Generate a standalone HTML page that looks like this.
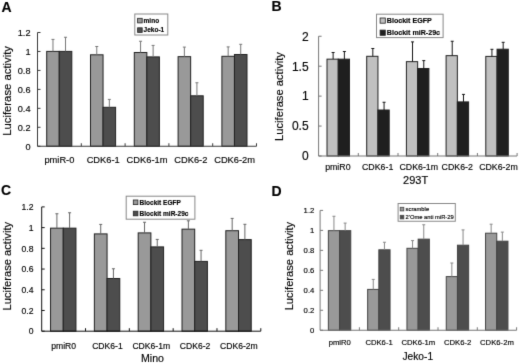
<!DOCTYPE html>
<html><head><meta charset="utf-8"><style>
html,body{margin:0;padding:0;background:#fff;}
body{width:520px;height:363px;overflow:hidden;}
svg{display:block;font-family:"Liberation Sans", sans-serif;fill:#000;will-change:transform;}
text{stroke:#000;stroke-width:0.15px;}
</style></head><body>
<svg width="520" height="363" viewBox="0 0 520 363" font-family='"Liberation Sans", sans-serif' fill="#000">
<defs><filter id="bl" filterUnits="userSpaceOnUse" x="0" y="0" width="520" height="363" color-interpolation-filters="sRGB"><feConvolveMatrix order="3" kernelMatrix="0.25 2.0 0.25 2.0 16 2.0 0.25 2.0 0.25" edgeMode="duplicate" preserveAlpha="false"/></filter></defs>
<rect x="0" y="0" width="520" height="363" fill="#fff"/>
<g filter="url(#bl)">
<text x="1.4" y="11.9" font-size="14" font-weight="bold">A</text>
<rect x="46.7" y="51.4" width="12.55" height="94.85" fill="#999999" stroke="#222222" stroke-width="1"/>
<line x1="52.98" y1="51.4" x2="52.98" y2="39.4" stroke="#777777" stroke-width="1"/>
<line x1="51.48" y1="39.4" x2="54.48" y2="39.4" stroke="#777777" stroke-width="1"/>
<rect x="59.25" y="51.4" width="12.55" height="94.85" fill="#4d4d4d" stroke="#222222" stroke-width="1"/>
<line x1="65.53" y1="51.4" x2="65.53" y2="37.25" stroke="#777777" stroke-width="1"/>
<line x1="64.03" y1="37.25" x2="67.03" y2="37.25" stroke="#777777" stroke-width="1"/>
<rect x="90.5" y="54.8" width="12.55" height="91.45" fill="#999999" stroke="#222222" stroke-width="1"/>
<line x1="96.78" y1="54.8" x2="96.78" y2="46.5" stroke="#777777" stroke-width="1"/>
<line x1="95.28" y1="46.5" x2="98.28" y2="46.5" stroke="#777777" stroke-width="1"/>
<rect x="103.05" y="107.3" width="12.55" height="38.95" fill="#4d4d4d" stroke="#222222" stroke-width="1"/>
<line x1="109.33" y1="107.3" x2="109.33" y2="99.4" stroke="#777777" stroke-width="1"/>
<line x1="107.83" y1="99.4" x2="110.83" y2="99.4" stroke="#777777" stroke-width="1"/>
<rect x="134.3" y="52.5" width="12.55" height="93.75" fill="#999999" stroke="#222222" stroke-width="1"/>
<line x1="140.57" y1="52.5" x2="140.57" y2="41.25" stroke="#777777" stroke-width="1"/>
<line x1="139.07" y1="41.25" x2="142.07" y2="41.25" stroke="#777777" stroke-width="1"/>
<rect x="146.85" y="56.9" width="12.55" height="89.35" fill="#4d4d4d" stroke="#222222" stroke-width="1"/>
<line x1="153.12" y1="56.9" x2="153.12" y2="45.4" stroke="#777777" stroke-width="1"/>
<line x1="151.62" y1="45.4" x2="154.62" y2="45.4" stroke="#777777" stroke-width="1"/>
<rect x="178.1" y="56.65" width="12.55" height="89.6" fill="#999999" stroke="#222222" stroke-width="1"/>
<line x1="184.37" y1="56.65" x2="184.37" y2="47.1" stroke="#777777" stroke-width="1"/>
<line x1="182.87" y1="47.1" x2="185.87" y2="47.1" stroke="#777777" stroke-width="1"/>
<rect x="190.65" y="95.8" width="12.55" height="50.45" fill="#4d4d4d" stroke="#222222" stroke-width="1"/>
<line x1="196.92" y1="95.8" x2="196.92" y2="82.75" stroke="#777777" stroke-width="1"/>
<line x1="195.42" y1="82.75" x2="198.42" y2="82.75" stroke="#777777" stroke-width="1"/>
<rect x="221.9" y="56.3" width="12.55" height="89.95" fill="#999999" stroke="#222222" stroke-width="1"/>
<line x1="228.17" y1="56.3" x2="228.17" y2="46.9" stroke="#777777" stroke-width="1"/>
<line x1="226.67" y1="46.9" x2="229.67" y2="46.9" stroke="#777777" stroke-width="1"/>
<rect x="234.45" y="54.5" width="12.55" height="91.75" fill="#4d4d4d" stroke="#222222" stroke-width="1"/>
<line x1="240.72" y1="54.5" x2="240.72" y2="44.3" stroke="#777777" stroke-width="1"/>
<line x1="239.22" y1="44.3" x2="242.22" y2="44.3" stroke="#777777" stroke-width="1"/>
<line x1="37.5" y1="32.5" x2="37.5" y2="146.25" stroke="#3a3a3a" stroke-width="1"/>
<line x1="37.5" y1="146.25" x2="256.5" y2="146.25" stroke="#3a3a3a" stroke-width="1"/>
<line x1="37.5" y1="146.25" x2="40.5" y2="146.25" stroke="#3a3a3a" stroke-width="1"/>
<text x="30.5" y="149.56" font-size="9.2" text-anchor="end">0</text>
<line x1="37.5" y1="127.29" x2="40.5" y2="127.29" stroke="#3a3a3a" stroke-width="1"/>
<text x="30.5" y="130.6" font-size="9.2" text-anchor="end">0.2</text>
<line x1="37.5" y1="108.33" x2="40.5" y2="108.33" stroke="#3a3a3a" stroke-width="1"/>
<text x="30.5" y="111.65" font-size="9.2" text-anchor="end">0.4</text>
<line x1="37.5" y1="89.38" x2="40.5" y2="89.38" stroke="#3a3a3a" stroke-width="1"/>
<text x="30.5" y="92.69" font-size="9.2" text-anchor="end">0.6</text>
<line x1="37.5" y1="70.42" x2="40.5" y2="70.42" stroke="#3a3a3a" stroke-width="1"/>
<text x="30.5" y="73.73" font-size="9.2" text-anchor="end">0.8</text>
<line x1="37.5" y1="51.46" x2="40.5" y2="51.46" stroke="#3a3a3a" stroke-width="1"/>
<text x="30.5" y="54.77" font-size="9.2" text-anchor="end">1</text>
<line x1="37.5" y1="32.5" x2="40.5" y2="32.5" stroke="#3a3a3a" stroke-width="1"/>
<text x="30.5" y="35.81" font-size="9.2" text-anchor="end">1.2</text>
<line x1="81.3" y1="146.25" x2="81.3" y2="143.25" stroke="#3a3a3a" stroke-width="1"/>
<line x1="125.1" y1="146.25" x2="125.1" y2="143.25" stroke="#3a3a3a" stroke-width="1"/>
<line x1="168.9" y1="146.25" x2="168.9" y2="143.25" stroke="#3a3a3a" stroke-width="1"/>
<line x1="212.7" y1="146.25" x2="212.7" y2="143.25" stroke="#3a3a3a" stroke-width="1"/>
<line x1="256.5" y1="146.25" x2="256.5" y2="143.25" stroke="#3a3a3a" stroke-width="1"/>
<text x="59.4" y="163" font-size="9.3" text-anchor="middle">pmiR-0</text>
<text x="103.2" y="163" font-size="9.3" text-anchor="middle">CDK6-1</text>
<text x="147" y="163" font-size="9.3" text-anchor="middle">CDK6-1m</text>
<text x="190.8" y="163" font-size="9.3" text-anchor="middle">CDK6-2</text>
<text x="234.6" y="163" font-size="9.3" text-anchor="middle">CDK6-2m</text>
<text transform="translate(10.6,90.9) rotate(-90)" font-size="11.3" text-anchor="middle">Luciferase activity</text>
<rect x="134.8" y="14" width="33" height="21" fill="#fff" stroke="#888" stroke-width="1"/>
<rect x="137.6" y="18.3" width="4.6" height="4.6" fill="#999999" stroke="#222222" stroke-width="0.8"/>
<text x="143.6" y="22.94" font-size="6.5" font-weight="bold">mino</text>
<rect x="137.6" y="27.8" width="4.6" height="4.6" fill="#4d4d4d" stroke="#222222" stroke-width="0.8"/>
<text x="143.6" y="32.44" font-size="6.5" font-weight="bold">Jeko-1</text>
<text x="271.4" y="11" font-size="14" font-weight="bold">B</text>
<rect x="327" y="59.15" width="11.25" height="96.85" fill="#c0c0c0" stroke="#222222" stroke-width="1"/>
<line x1="333.12" y1="59.15" x2="333.12" y2="52.5" stroke="#151515" stroke-width="1"/>
<line x1="331.62" y1="52.5" x2="334.62" y2="52.5" stroke="#151515" stroke-width="1"/>
<rect x="338.25" y="59.15" width="11.25" height="96.85" fill="#1f1f1f" stroke="#222222" stroke-width="1"/>
<line x1="344.38" y1="59.15" x2="344.38" y2="51.5" stroke="#151515" stroke-width="1"/>
<line x1="342.88" y1="51.5" x2="345.88" y2="51.5" stroke="#151515" stroke-width="1"/>
<rect x="366.7" y="56.3" width="11.25" height="99.7" fill="#c0c0c0" stroke="#222222" stroke-width="1"/>
<line x1="372.82" y1="56.3" x2="372.82" y2="48.5" stroke="#151515" stroke-width="1"/>
<line x1="371.32" y1="48.5" x2="374.32" y2="48.5" stroke="#151515" stroke-width="1"/>
<rect x="377.95" y="110" width="11.25" height="46" fill="#1f1f1f" stroke="#222222" stroke-width="1"/>
<line x1="384.07" y1="110" x2="384.07" y2="102.25" stroke="#151515" stroke-width="1"/>
<line x1="382.57" y1="102.25" x2="385.57" y2="102.25" stroke="#151515" stroke-width="1"/>
<rect x="406.4" y="61.65" width="11.25" height="94.35" fill="#c0c0c0" stroke="#222222" stroke-width="1"/>
<line x1="412.52" y1="61.65" x2="412.52" y2="41.9" stroke="#151515" stroke-width="1"/>
<line x1="411.02" y1="41.9" x2="414.02" y2="41.9" stroke="#151515" stroke-width="1"/>
<rect x="417.65" y="68.5" width="11.25" height="87.5" fill="#1f1f1f" stroke="#222222" stroke-width="1"/>
<line x1="423.77" y1="68.5" x2="423.77" y2="60.6" stroke="#151515" stroke-width="1"/>
<line x1="422.27" y1="60.6" x2="425.27" y2="60.6" stroke="#151515" stroke-width="1"/>
<rect x="446.1" y="55.65" width="11.25" height="100.35" fill="#c0c0c0" stroke="#222222" stroke-width="1"/>
<line x1="452.23" y1="55.65" x2="452.23" y2="41.25" stroke="#151515" stroke-width="1"/>
<line x1="450.73" y1="41.25" x2="453.73" y2="41.25" stroke="#151515" stroke-width="1"/>
<rect x="457.35" y="101.9" width="11.25" height="54.1" fill="#1f1f1f" stroke="#222222" stroke-width="1"/>
<line x1="463.48" y1="101.9" x2="463.48" y2="94.4" stroke="#151515" stroke-width="1"/>
<line x1="461.98" y1="94.4" x2="464.98" y2="94.4" stroke="#151515" stroke-width="1"/>
<rect x="485.8" y="56.4" width="11.25" height="99.6" fill="#c0c0c0" stroke="#222222" stroke-width="1"/>
<line x1="491.93" y1="56.4" x2="491.93" y2="49.3" stroke="#151515" stroke-width="1"/>
<line x1="490.43" y1="49.3" x2="493.43" y2="49.3" stroke="#151515" stroke-width="1"/>
<rect x="497.05" y="49.2" width="11.25" height="106.8" fill="#1f1f1f" stroke="#222222" stroke-width="1"/>
<line x1="503.18" y1="49.2" x2="503.18" y2="42.3" stroke="#151515" stroke-width="1"/>
<line x1="501.68" y1="42.3" x2="504.68" y2="42.3" stroke="#151515" stroke-width="1"/>
<line x1="318.6" y1="36.25" x2="318.6" y2="156" stroke="#777777" stroke-width="1"/>
<line x1="318.6" y1="156" x2="517.1" y2="156" stroke="#777777" stroke-width="1"/>
<line x1="318.6" y1="156" x2="321.6" y2="156" stroke="#777777" stroke-width="1"/>
<text x="308.6" y="160.32" font-size="12" text-anchor="end">0</text>
<line x1="318.6" y1="126.06" x2="321.6" y2="126.06" stroke="#777777" stroke-width="1"/>
<text x="308.6" y="130.38" font-size="12" text-anchor="end">0.5</text>
<line x1="318.6" y1="96.12" x2="321.6" y2="96.12" stroke="#777777" stroke-width="1"/>
<text x="308.6" y="100.44" font-size="12" text-anchor="end">1</text>
<line x1="318.6" y1="66.19" x2="321.6" y2="66.19" stroke="#777777" stroke-width="1"/>
<text x="308.6" y="70.51" font-size="12" text-anchor="end">1.5</text>
<line x1="318.6" y1="36.25" x2="321.6" y2="36.25" stroke="#777777" stroke-width="1"/>
<text x="308.6" y="40.57" font-size="12" text-anchor="end">2</text>
<line x1="358.3" y1="156" x2="358.3" y2="153" stroke="#777777" stroke-width="1"/>
<line x1="398" y1="156" x2="398" y2="153" stroke="#777777" stroke-width="1"/>
<line x1="437.7" y1="156" x2="437.7" y2="153" stroke="#777777" stroke-width="1"/>
<line x1="477.4" y1="156" x2="477.4" y2="153" stroke="#777777" stroke-width="1"/>
<line x1="517.1" y1="156" x2="517.1" y2="153" stroke="#777777" stroke-width="1"/>
<text x="337.85" y="169.8" font-size="8.8" text-anchor="middle">pmiR0</text>
<text x="377.65" y="169.8" font-size="8.8" text-anchor="middle">CDK6-1</text>
<text x="418.75" y="169.8" font-size="8.8" text-anchor="middle">CDK6-1m</text>
<text x="457.25" y="169.8" font-size="8.8" text-anchor="middle">CDK6-2</text>
<text x="498.45" y="169.8" font-size="8.8" text-anchor="middle">CDK6-2m</text>
<text x="415.6" y="184" font-size="11" text-anchor="middle">293T</text>
<text transform="translate(283.4,96.5) rotate(-90)" font-size="11.2" text-anchor="middle">Luciferase activity</text>
<rect x="376.5" y="14.2" width="66.6" height="23.4" fill="#fff" stroke="#888" stroke-width="1"/>
<rect x="380.1" y="18" width="5.2" height="5.2" fill="#c0c0c0" stroke="#222222" stroke-width="0.8"/>
<text x="386.8" y="23.16" font-size="7.1" font-weight="bold">Blockit EGFP</text>
<rect x="380.1" y="30.1" width="5.2" height="5.2" fill="#1f1f1f" stroke="#222222" stroke-width="0.8"/>
<text x="386.8" y="35.26" font-size="7.1" font-weight="bold">Blockit miR-29c</text>
<text x="1" y="194.7" font-size="14" font-weight="bold">C</text>
<rect x="50.55" y="228.15" width="12.7" height="103.05" fill="#999999" stroke="#222222" stroke-width="1"/>
<line x1="56.9" y1="228.15" x2="56.9" y2="213.75" stroke="#666666" stroke-width="1"/>
<line x1="55.4" y1="213.75" x2="58.4" y2="213.75" stroke="#666666" stroke-width="1"/>
<rect x="63.25" y="228.15" width="12.7" height="103.05" fill="#4d4d4d" stroke="#222222" stroke-width="1"/>
<line x1="69.6" y1="228.15" x2="69.6" y2="212.75" stroke="#666666" stroke-width="1"/>
<line x1="68.1" y1="212.75" x2="71.1" y2="212.75" stroke="#666666" stroke-width="1"/>
<rect x="94.37" y="233.9" width="12.7" height="97.3" fill="#999999" stroke="#222222" stroke-width="1"/>
<line x1="100.72" y1="233.9" x2="100.72" y2="224.4" stroke="#666666" stroke-width="1"/>
<line x1="99.22" y1="224.4" x2="102.22" y2="224.4" stroke="#666666" stroke-width="1"/>
<rect x="107.07" y="278.5" width="12.7" height="52.7" fill="#4d4d4d" stroke="#222222" stroke-width="1"/>
<line x1="113.42" y1="278.5" x2="113.42" y2="268.75" stroke="#666666" stroke-width="1"/>
<line x1="111.92" y1="268.75" x2="114.92" y2="268.75" stroke="#666666" stroke-width="1"/>
<rect x="138.19" y="232.9" width="12.7" height="98.3" fill="#999999" stroke="#222222" stroke-width="1"/>
<line x1="144.54" y1="232.9" x2="144.54" y2="222.25" stroke="#666666" stroke-width="1"/>
<line x1="143.04" y1="222.25" x2="146.04" y2="222.25" stroke="#666666" stroke-width="1"/>
<rect x="150.89" y="246.9" width="12.7" height="84.3" fill="#4d4d4d" stroke="#222222" stroke-width="1"/>
<line x1="157.24" y1="246.9" x2="157.24" y2="239.4" stroke="#666666" stroke-width="1"/>
<line x1="155.74" y1="239.4" x2="158.74" y2="239.4" stroke="#666666" stroke-width="1"/>
<rect x="182.01" y="229.15" width="12.7" height="102.05" fill="#999999" stroke="#222222" stroke-width="1"/>
<line x1="188.36" y1="229.15" x2="188.36" y2="220.8" stroke="#666666" stroke-width="1"/>
<line x1="186.86" y1="220.8" x2="189.86" y2="220.8" stroke="#666666" stroke-width="1"/>
<rect x="194.71" y="261.4" width="12.7" height="69.8" fill="#4d4d4d" stroke="#222222" stroke-width="1"/>
<line x1="201.06" y1="261.4" x2="201.06" y2="250.3" stroke="#666666" stroke-width="1"/>
<line x1="199.56" y1="250.3" x2="202.56" y2="250.3" stroke="#666666" stroke-width="1"/>
<rect x="225.83" y="230.7" width="12.7" height="100.5" fill="#999999" stroke="#222222" stroke-width="1"/>
<line x1="232.18" y1="230.7" x2="232.18" y2="218.4" stroke="#666666" stroke-width="1"/>
<line x1="230.68" y1="218.4" x2="233.68" y2="218.4" stroke="#666666" stroke-width="1"/>
<rect x="238.53" y="239.6" width="12.7" height="91.6" fill="#4d4d4d" stroke="#222222" stroke-width="1"/>
<line x1="244.88" y1="239.6" x2="244.88" y2="224.3" stroke="#666666" stroke-width="1"/>
<line x1="243.38" y1="224.3" x2="246.38" y2="224.3" stroke="#666666" stroke-width="1"/>
<line x1="41.7" y1="206.9" x2="41.7" y2="331.2" stroke="#111111" stroke-width="1"/>
<line x1="41.7" y1="331.2" x2="260.8" y2="331.2" stroke="#111111" stroke-width="1"/>
<line x1="41.7" y1="331.2" x2="44.7" y2="331.2" stroke="#111111" stroke-width="1"/>
<text x="33.5" y="334.47" font-size="8.6" text-anchor="end">0</text>
<line x1="41.7" y1="310.48" x2="44.7" y2="310.48" stroke="#111111" stroke-width="1"/>
<text x="33.5" y="313.75" font-size="8.6" text-anchor="end">0.2</text>
<line x1="41.7" y1="289.77" x2="44.7" y2="289.77" stroke="#111111" stroke-width="1"/>
<text x="33.5" y="293.03" font-size="8.6" text-anchor="end">0.4</text>
<line x1="41.7" y1="269.05" x2="44.7" y2="269.05" stroke="#111111" stroke-width="1"/>
<text x="33.5" y="272.32" font-size="8.6" text-anchor="end">0.6</text>
<line x1="41.7" y1="248.33" x2="44.7" y2="248.33" stroke="#111111" stroke-width="1"/>
<text x="33.5" y="251.6" font-size="8.6" text-anchor="end">0.8</text>
<line x1="41.7" y1="227.62" x2="44.7" y2="227.62" stroke="#111111" stroke-width="1"/>
<text x="33.5" y="230.88" font-size="8.6" text-anchor="end">1</text>
<line x1="41.7" y1="206.9" x2="44.7" y2="206.9" stroke="#111111" stroke-width="1"/>
<text x="33.5" y="210.17" font-size="8.6" text-anchor="end">1.2</text>
<line x1="85.52" y1="331.2" x2="85.52" y2="328.2" stroke="#111111" stroke-width="1"/>
<line x1="129.34" y1="331.2" x2="129.34" y2="328.2" stroke="#111111" stroke-width="1"/>
<line x1="173.16" y1="331.2" x2="173.16" y2="328.2" stroke="#111111" stroke-width="1"/>
<line x1="216.98" y1="331.2" x2="216.98" y2="328.2" stroke="#111111" stroke-width="1"/>
<line x1="260.8" y1="331.2" x2="260.8" y2="328.2" stroke="#111111" stroke-width="1"/>
<text x="63.61" y="348.8" font-size="8.6" text-anchor="middle">pmiR0</text>
<text x="107.43" y="348.8" font-size="8.6" text-anchor="middle">CDK6-1</text>
<text x="151.25" y="348.8" font-size="8.6" text-anchor="middle">CDK6-1m</text>
<text x="195.07" y="348.8" font-size="8.6" text-anchor="middle">CDK6-2</text>
<text x="238.89" y="348.8" font-size="8.6" text-anchor="middle">CDK6-2m</text>
<text x="152.5" y="361.6" font-size="10.6" text-anchor="middle">Mino</text>
<text transform="translate(10.5,266.2) rotate(-90)" font-size="11.15" text-anchor="middle">Luciferase activity</text>
<rect x="126.2" y="196.2" width="68.7" height="23" fill="#fff" stroke="#888" stroke-width="1"/>
<rect x="133.3" y="200" width="4.6" height="4.6" fill="#999999" stroke="#222222" stroke-width="0.8"/>
<text x="139.6" y="204.64" font-size="6.5" font-weight="bold">Blockit EGFP</text>
<rect x="133.3" y="211.2" width="4.6" height="4.6" fill="#4d4d4d" stroke="#222222" stroke-width="0.8"/>
<text x="139.6" y="215.84" font-size="6.5" font-weight="bold">Blockit miR-29c</text>
<text x="271.4" y="195.5" font-size="14" font-weight="bold">D</text>
<rect x="328.35" y="230.65" width="11.2" height="99.6" fill="#999999" stroke="#444444" stroke-width="1"/>
<line x1="333.95" y1="230.65" x2="333.95" y2="216.25" stroke="#888888" stroke-width="1"/>
<line x1="332.45" y1="216.25" x2="335.45" y2="216.25" stroke="#888888" stroke-width="1"/>
<rect x="339.55" y="230.65" width="11.2" height="99.6" fill="#4d4d4d" stroke="#444444" stroke-width="1"/>
<line x1="345.15" y1="230.65" x2="345.15" y2="223.1" stroke="#888888" stroke-width="1"/>
<line x1="343.65" y1="223.1" x2="346.65" y2="223.1" stroke="#888888" stroke-width="1"/>
<rect x="367.65" y="289.4" width="11.2" height="40.85" fill="#999999" stroke="#444444" stroke-width="1"/>
<line x1="373.25" y1="289.4" x2="373.25" y2="279.4" stroke="#888888" stroke-width="1"/>
<line x1="371.75" y1="279.4" x2="374.75" y2="279.4" stroke="#888888" stroke-width="1"/>
<rect x="378.85" y="249.8" width="11.2" height="80.45" fill="#4d4d4d" stroke="#444444" stroke-width="1"/>
<line x1="384.45" y1="249.8" x2="384.45" y2="242.25" stroke="#888888" stroke-width="1"/>
<line x1="382.95" y1="242.25" x2="385.95" y2="242.25" stroke="#888888" stroke-width="1"/>
<rect x="406.95" y="248.3" width="11.2" height="81.95" fill="#999999" stroke="#444444" stroke-width="1"/>
<line x1="412.55" y1="248.3" x2="412.55" y2="240.6" stroke="#888888" stroke-width="1"/>
<line x1="411.05" y1="240.6" x2="414.05" y2="240.6" stroke="#888888" stroke-width="1"/>
<rect x="418.15" y="239.15" width="11.2" height="91.1" fill="#4d4d4d" stroke="#444444" stroke-width="1"/>
<line x1="423.75" y1="239.15" x2="423.75" y2="224.75" stroke="#888888" stroke-width="1"/>
<line x1="422.25" y1="224.75" x2="425.25" y2="224.75" stroke="#888888" stroke-width="1"/>
<rect x="446.25" y="276.6" width="11.2" height="53.65" fill="#999999" stroke="#444444" stroke-width="1"/>
<line x1="451.85" y1="276.6" x2="451.85" y2="263" stroke="#888888" stroke-width="1"/>
<line x1="450.35" y1="263" x2="453.35" y2="263" stroke="#888888" stroke-width="1"/>
<rect x="457.45" y="245.2" width="11.2" height="85.05" fill="#4d4d4d" stroke="#444444" stroke-width="1"/>
<line x1="463.05" y1="245.2" x2="463.05" y2="229.9" stroke="#888888" stroke-width="1"/>
<line x1="461.55" y1="229.9" x2="464.55" y2="229.9" stroke="#888888" stroke-width="1"/>
<rect x="485.55" y="233.2" width="11.2" height="97.05" fill="#999999" stroke="#444444" stroke-width="1"/>
<line x1="491.15" y1="233.2" x2="491.15" y2="224.2" stroke="#888888" stroke-width="1"/>
<line x1="489.65" y1="224.2" x2="492.65" y2="224.2" stroke="#888888" stroke-width="1"/>
<rect x="496.75" y="241.2" width="11.2" height="89.05" fill="#4d4d4d" stroke="#444444" stroke-width="1"/>
<line x1="502.35" y1="241.2" x2="502.35" y2="232.1" stroke="#888888" stroke-width="1"/>
<line x1="500.85" y1="232.1" x2="503.85" y2="232.1" stroke="#888888" stroke-width="1"/>
<line x1="320.1" y1="210.4" x2="320.1" y2="330.25" stroke="#777777" stroke-width="1"/>
<line x1="320.1" y1="330.25" x2="516.6" y2="330.25" stroke="#777777" stroke-width="1"/>
<line x1="320.1" y1="330.25" x2="323.1" y2="330.25" stroke="#777777" stroke-width="1"/>
<text x="314.3" y="333.18" font-size="7.7" text-anchor="end">0</text>
<line x1="320.1" y1="310.27" x2="323.1" y2="310.27" stroke="#777777" stroke-width="1"/>
<text x="314.3" y="313.2" font-size="7.7" text-anchor="end">0.2</text>
<line x1="320.1" y1="290.3" x2="323.1" y2="290.3" stroke="#777777" stroke-width="1"/>
<text x="314.3" y="293.23" font-size="7.7" text-anchor="end">0.4</text>
<line x1="320.1" y1="270.32" x2="323.1" y2="270.32" stroke="#777777" stroke-width="1"/>
<text x="314.3" y="273.25" font-size="7.7" text-anchor="end">0.6</text>
<line x1="320.1" y1="250.35" x2="323.1" y2="250.35" stroke="#777777" stroke-width="1"/>
<text x="314.3" y="253.28" font-size="7.7" text-anchor="end">0.8</text>
<line x1="320.1" y1="230.38" x2="323.1" y2="230.38" stroke="#777777" stroke-width="1"/>
<text x="314.3" y="233.3" font-size="7.7" text-anchor="end">1</text>
<line x1="320.1" y1="210.4" x2="323.1" y2="210.4" stroke="#777777" stroke-width="1"/>
<text x="314.3" y="213.33" font-size="7.7" text-anchor="end">1.2</text>
<line x1="359.4" y1="330.25" x2="359.4" y2="327.25" stroke="#777777" stroke-width="1"/>
<line x1="398.7" y1="330.25" x2="398.7" y2="327.25" stroke="#777777" stroke-width="1"/>
<line x1="438" y1="330.25" x2="438" y2="327.25" stroke="#777777" stroke-width="1"/>
<line x1="477.3" y1="330.25" x2="477.3" y2="327.25" stroke="#777777" stroke-width="1"/>
<line x1="516.6" y1="330.25" x2="516.6" y2="327.25" stroke="#777777" stroke-width="1"/>
<text x="339.75" y="345.2" font-size="7.7" text-anchor="middle">pmiR0</text>
<text x="379.05" y="345.2" font-size="7.7" text-anchor="middle">CDK6-1</text>
<text x="418.35" y="345.2" font-size="7.7" text-anchor="middle">CDK6-1m</text>
<text x="457.65" y="345.2" font-size="7.7" text-anchor="middle">CDK6-2</text>
<text x="496.95" y="345.2" font-size="7.7" text-anchor="middle">CDK6-2m</text>
<text x="417.8" y="359.5" font-size="10.2" text-anchor="middle">Jeko-1</text>
<text transform="translate(292.6,266.1) rotate(-90)" font-size="11.15" text-anchor="middle">Luciferase activity</text>
<rect x="398.1" y="203.5" width="57.2" height="17.75" fill="#fff" stroke="#888" stroke-width="1"/>
<rect x="400.2" y="207.3" width="3.6" height="3.6" fill="#999999" stroke="#444444" stroke-width="0.8"/>
<text x="405.6" y="211.19" font-size="5.8">scramble</text>
<rect x="400.2" y="215.3" width="3.6" height="3.6" fill="#4d4d4d" stroke="#444444" stroke-width="0.8"/>
<text x="405.6" y="219.19" font-size="5.8">2'Ome anti miR-29</text>
</g>
</svg>
</body></html>
